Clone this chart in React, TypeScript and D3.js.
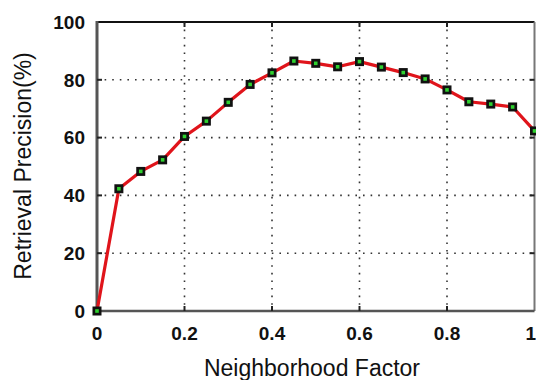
import { useEffect, useRef } from "react";
import * as d3 from "d3";

// Neighborhood factor sampled every 0.05
const factors = [
  0, 0.05, 0.1, 0.15, 0.2, 0.25, 0.3, 0.35, 0.4, 0.45, 0.5,
  0.55, 0.6, 0.65, 0.7, 0.75, 0.8, 0.85, 0.9, 0.95, 1,
];
const precision = [
  0, 42.3, 48.3, 52.3, 60.4, 65.7, 72.2, 78.4, 82.4, 86.5, 85.7,
  84.5, 86.3, 84.4, 82.5, 80.3, 76.5, 72.4, 71.6, 70.6, 62.3,
];
const xTicks = [0, 0.2, 0.4, 0.6, 0.8, 1];
const xTickLabels = ["0", "0.2", "0.4", "0.6", "0.8", "1"];
const yTicks = [0, 20, 40, 60, 80, 100];

const W = 536;
const H = 380;
const MARGIN = { top: 22, right: 1.5, bottom: 69, left: 97 };
const FONT = "'Liberation Sans', Arial, sans-serif";

export default function App() {
  const svgRef = useRef<SVGSVGElement>(null);

  useEffect(() => {
    const svgEl = svgRef.current;
    if (!svgEl) return;
    const svg = d3.select(svgEl);
    svg.selectAll("*").remove();

    const x = d3.scaleLinear().domain([0, 1]).range([MARGIN.left, W - MARGIN.right]);
    const y = d3.scaleLinear().domain([0, 100]).range([H - MARGIN.bottom, MARGIN.top]);
    const pts = factors.map((f, i) => ({ f, p: precision[i] }));

    svg.append("rect").attr("width", W).attr("height", H).attr("fill", "#fff");

    // dotted grid
    const grid = svg.append("g").attr("stroke", "#333").attr("stroke-width", 1.6)
      .attr("stroke-dasharray", "1.6 6");
    grid.selectAll("line.gx").data(xTicks.slice(1, -1)).enter().append("line")
      .attr("x1", (d) => x(d)).attr("x2", (d) => x(d))
      .attr("y1", y(100)).attr("y2", y(0));
    grid.selectAll("line.gy").data(yTicks.slice(1, -1)).enter().append("line")
      .attr("x1", x(0)).attr("x2", x(1))
      .attr("y1", (d) => y(d)).attr("y2", (d) => y(d));

    // frame
    svg.append("line").attr("x1", x(0)).attr("x2", x(1)).attr("y1", y(100)).attr("y2", y(100))
      .attr("stroke", "#111").attr("stroke-width", 2);
    svg.append("line").attr("x1", x(1)).attr("x2", x(1)).attr("y1", y(100)).attr("y2", y(0))
      .attr("stroke", "#777").attr("stroke-width", 2);
    svg.append("line").attr("x1", x(0)).attr("x2", x(0)).attr("y1", y(100) - 1).attr("y2", y(0) + 1)
      .attr("stroke", "#555").attr("stroke-width", 3);
    svg.append("line").attr("x1", x(0)).attr("x2", x(1)).attr("y1", y(0)).attr("y2", y(0))
      .attr("stroke", "#555").attr("stroke-width", 2.5);

    // tick marks (inward)
    const ticks = svg.append("g").attr("stroke", "#222").attr("stroke-width", 2);
    ticks.selectAll("line.bt").data(xTicks.slice(1, -1)).enter().append("line")
      .attr("x1", (d) => x(d)).attr("x2", (d) => x(d))
      .attr("y1", y(0)).attr("y2", y(0) - 5);
    ticks.selectAll("line.tt").data(xTicks.slice(1, -1)).enter().append("line")
      .attr("x1", (d) => x(d)).attr("x2", (d) => x(d))
      .attr("y1", y(100)).attr("y2", y(100) + 5);
    ticks.selectAll("line.lt").data(yTicks.slice(1, -1)).enter().append("line")
      .attr("x1", x(0)).attr("x2", x(0) + 5)
      .attr("y1", (d) => y(d)).attr("y2", (d) => y(d));
    ticks.selectAll("line.rt").data(yTicks.slice(1, -1)).enter().append("line")
      .attr("x1", x(1)).attr("x2", x(1) - 5)
      .attr("y1", (d) => y(d)).attr("y2", (d) => y(d));

    // tick labels
    svg.append("g").selectAll("text").data(yTicks).enter().append("text")
      .attr("x", x(0) - 12).attr("y", (d) => y(d)).attr("dy", "0.36em")
      .attr("text-anchor", "end").attr("font-family", FONT).attr("font-size", 19)
      .attr("font-weight", "bold").attr("fill", "#111")
      .text((d) => String(d));
    const last = xTicks.length - 1;
    svg.append("g").selectAll("text").data(xTicks).enter().append("text")
      .attr("x", (d, i) => (i === last ? W : x(d)))
      .attr("y", y(0) + 29)
      .attr("text-anchor", (_d, i) => (i === last ? "end" : "middle"))
      .attr("font-family", FONT).attr("font-size", 19)
      .attr("font-weight", "bold").attr("fill", "#111")
      .text((_d, i) => xTickLabels[i]);

    // axis titles
    svg.append("text")
      .attr("x", 312).attr("y", 376)
      .attr("text-anchor", "middle").attr("font-family", FONT).attr("font-size", 23)
      .attr("fill", "#111").text("Neighborhood Factor");
    svg.append("text")
      .attr("transform", `translate(31, 166) rotate(-90)`)
      .attr("text-anchor", "middle").attr("font-family", FONT).attr("font-size", 23)
      .attr("fill", "#111").text("Retrieval Precision(%)");

    // line
    const line = d3.line<{ f: number; p: number }>().x((d) => x(d.f)).y((d) => y(d.p));
    svg.append("path").datum(pts).attr("d", line).attr("fill", "none")
      .attr("stroke", "#e0141b").attr("stroke-width", 3.2).attr("stroke-linejoin", "round");

    // markers
    const mk = svg.append("g").selectAll("g").data(pts).enter().append("g")
      .attr("transform", (d) => `translate(${x(d.f)},${y(d.p)})`);
    mk.append("rect").attr("x", -4.5).attr("y", -4.5).attr("width", 9).attr("height", 9)
      .attr("fill", "#111");
    mk.append("rect").attr("x", -1.8).attr("y", -1.8).attr("width", 3.6).attr("height", 3.6)
      .attr("fill", "#2fd12f");
  }, []);

  return (
    <svg
      ref={svgRef}
      width={W}
      height={H}
      style={{ display: "block", position: "absolute", left: 0, top: 0 }}
    />
  );
}
